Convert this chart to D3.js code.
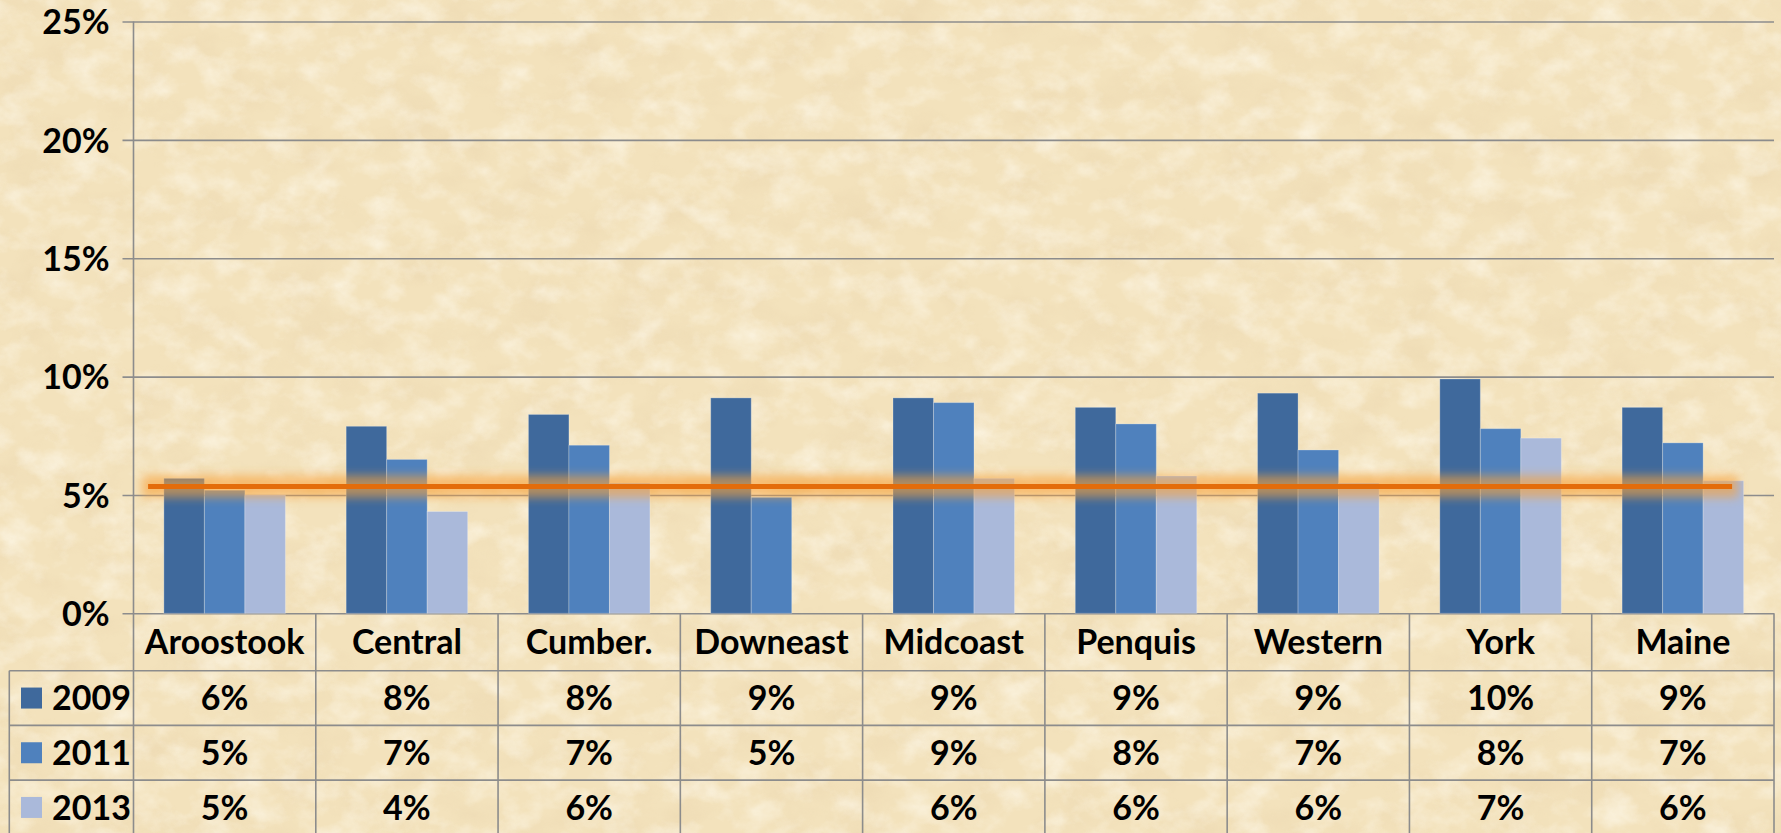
<!DOCTYPE html>
<html>
<head>
<meta charset="utf-8">
<script src="https://d3js.org/d3.v7.min.js"></script>
<style>
  body { margin: 0; padding: 0; overflow: hidden; }
  text { font-family: Lato, "Open Sans", sans-serif; font-weight: bold; fill: #000; }
</style>
</head>
<body>
<div id="my_dataviz"></div>
<script>

// data (percent)
var categories = ["Aroostook", "Central", "Cumber.", "Downeast", "Midcoast", "Penquis", "Western", "York", "Maine"];
var years = ["2009", "2011", "2013"];
var v2009 = [5.7, 7.9, 8.4, 9.1, 9.1, 8.7, 9.3, 9.9, 8.7];
var v2011 = [5.2, 6.5, 7.1, 4.9, 8.9, 8.0, 6.9, 7.8, 7.2];
var v2013 = [5.0, 4.3, 5.5, null, 5.7, 5.8, 5.5, 7.4, 5.6];
var yTicks = [0, 5, 10, 15, 20, 25];
var benchmark = 5.36;
// benchmark line start / end, in category units
var benchSpan = [0.08, 8.77];

var colors = ["#3f699c", "#4f81bd", "#aab9da"];
var series = [v2009, v2011, v2013];

var W = 1781, H = 833;
var margin = {top: 21.5, left: 133.5, right: 7},
    width = W - margin.left - margin.right,
    height = 613.3 - margin.top;
var rowH = 54.7, catRowH = 57.4;

var svg = d3.select("#my_dataviz")
  .append("svg")
    .attr("width", W)
    .attr("height", H);

// parchment background
var defs = svg.append("defs");
var tex = defs.append("filter").attr("id", "paper")
  .attr("x", 0).attr("y", 0).attr("width", "100%").attr("height", "100%");
tex.append("feTurbulence")
  .attr("type", "fractalNoise")
  .attr("baseFrequency", "0.018 0.026")
  .attr("numOctaves", 5)
  .attr("seed", 7);
tex.append("feColorMatrix")
  .attr("type", "matrix")
  .attr("values", "0 0 0 0 0.80  0 0 0 0 0.64  0 0 0 0 0.40  2.0 0 0 0 -0.9");

var lite = defs.append("filter").attr("id", "paperLite")
  .attr("x", 0).attr("y", 0).attr("width", "100%").attr("height", "100%");
lite.append("feTurbulence")
  .attr("type", "fractalNoise")
  .attr("baseFrequency", "0.03 0.04")
  .attr("numOctaves", 4)
  .attr("seed", 21);
lite.append("feColorMatrix")
  .attr("type", "matrix")
  .attr("values", "0 0 0 0 1  0 0 0 0 0.97  0 0 0 0 0.88  2.0 0 0 0 -0.85");

var glow = defs.append("filter").attr("id", "glow")
  .attr("filterUnits", "userSpaceOnUse")
  .attr("x", -50).attr("y", -50).attr("width", W + 100).attr("height", H + 100);
glow.append("feGaussianBlur").attr("stdDeviation", 5);

svg.append("rect").attr("width", W).attr("height", H).attr("fill", "#f3e2bc");
svg.append("rect").attr("width", W).attr("height", H).attr("filter", "url(#paper)").attr("opacity", 0.4);
svg.append("rect").attr("width", W).attr("height", H).attr("filter", "url(#paperLite)").attr("opacity", 0.6);

var g = svg.append("g")
  .attr("transform", "translate(" + margin.left + "," + margin.top + ")");

// scales
var x = d3.scaleBand()
  .domain(categories)
  .range([0, width])
  .paddingInner(0);
var xSub = d3.scaleBand()
  .domain(years)
  .range([x.bandwidth() / 6, x.bandwidth() * 5 / 6]);
var xIdx = d3.scaleLinear()
  .domain([0, categories.length])
  .range([0, width]);
var y = d3.scaleLinear()
  .domain([0, 25])
  .range([height, 0]);

// gridlines + y labels
var yAxis = g.append("g")
  .call(d3.axisLeft(y).tickValues(yTicks).tickSize(-width - 11).tickPadding(24)
    .tickFormat(function(d) { return d + "%"; }));
yAxis.select(".domain").remove();
yAxis.selectAll(".tick line")
  .attr("x1", -11).attr("x2", width)
  .attr("stroke", "#8c8c8c").attr("stroke-width", 1.6);
yAxis.selectAll(".tick text")
  .style("font-size", "34px").style("font-family", "Lato, sans-serif").style("font-weight", "bold")
  .attr("dy", "0.36em");

// bars
var groups = g.append("g").selectAll("g")
  .data(categories)
  .enter().append("g")
    .attr("transform", function(d) { return "translate(" + x(d) + ",0)"; });

groups.selectAll("rect")
  .data(function(d, i) {
    return years.map(function(yr, k) { return {year: yr, k: k, value: series[k][i]}; })
      .filter(function(e) { return e.value != null; });
  })
  .enter().append("rect")
    .attr("x", function(d) { return xSub(d.year); })
    .attr("y", function(d) { return y(d.value); })
    .attr("width", xSub.bandwidth())
    .attr("height", function(d) { return height - y(d.value); })
    .attr("fill", function(d) { return colors[d.k]; })
    .attr("stroke", "rgba(255,255,255,0.25)")
    .attr("stroke-width", 1);

// benchmark line with glow
g.append("rect")
  .attr("x", xIdx(benchSpan[0]) - 6)
  .attr("width", xIdx(benchSpan[1]) - xIdx(benchSpan[0]) + 12)
  .attr("y", y(benchmark) - 11).attr("height", 22)
  .attr("fill", "#f8a23a")
  .attr("opacity", 0.62)
  .attr("filter", "url(#glow)");
g.append("line")
  .attr("x1", xIdx(benchSpan[0])).attr("x2", xIdx(benchSpan[1]))
  .attr("y1", y(benchmark)).attr("y2", y(benchmark))
  .attr("stroke", "#e46c0a").attr("stroke-width", 5);

// data table below the axis
var tableTop = height;
var tableBottom = tableTop + catRowH + rowH * years.length;
var tableLeft = 9.3 - margin.left;
var lineColor = "#8c8c8c";
var tg = g.append("g");

// y axis line from top down through the table
tg.append("line")
  .attr("x1", 0).attr("x2", 0).attr("y1", 0).attr("y2", tableBottom)
  .attr("stroke", lineColor).attr("stroke-width", 1.6);

// column dividers
tg.selectAll(".col")
  .data(categories)
  .enter().append("line")
    .attr("x1", function(d) { return x(d) + x.bandwidth(); })
    .attr("x2", function(d) { return x(d) + x.bandwidth(); })
    .attr("y1", tableTop).attr("y2", tableBottom)
    .attr("stroke", lineColor).attr("stroke-width", 1.6);

// row lines
tg.selectAll(".row")
  .data(d3.range(years.length + 1))
  .enter().append("line")
    .attr("x1", tableLeft).attr("x2", width)
    .attr("y1", function(i) { return tableTop + catRowH + i * rowH; })
    .attr("y2", function(i) { return tableTop + catRowH + i * rowH; })
    .attr("stroke", lineColor).attr("stroke-width", 1.6);
tg.append("line")
  .attr("x1", tableLeft).attr("x2", tableLeft)
  .attr("y1", tableTop + catRowH).attr("y2", tableBottom)
  .attr("stroke", lineColor).attr("stroke-width", 1.6);

// category names
tg.selectAll(".cat")
  .data(categories)
  .enter().append("text")
    .attr("x", function(d) { return x(d) + x.bandwidth() / 2; })
    .attr("y", tableTop + catRowH / 2)
    .attr("dy", "0.36em")
    .attr("text-anchor", "middle")
    .style("font-size", "34px")
    .text(function(d) { return d; });

// legend + value rows
years.forEach(function(yr, k) {
  var cy = tableTop + catRowH + k * rowH + rowH / 2;
  tg.append("rect")
    .attr("x", 21 - margin.left).attr("y", cy - 10.5)
    .attr("width", 21).attr("height", 21)
    .attr("fill", colors[k]);
  tg.append("text")
    .attr("x", 52 - margin.left).attr("y", cy)
    .attr("dy", "0.36em")
    .style("font-size", "34px")
    .text(yr);
  tg.selectAll(".v" + yr)
    .data(categories)
    .enter().append("text")
      .attr("x", function(d) { return x(d) + x.bandwidth() / 2; })
      .attr("y", cy)
      .attr("dy", "0.36em")
      .attr("text-anchor", "middle")
      .style("font-size", "34px")
      .text(function(d, i) { var v = series[k][i]; return v == null ? "" : Math.round(v) + "%"; });
});

</script>
</body>
</html>
